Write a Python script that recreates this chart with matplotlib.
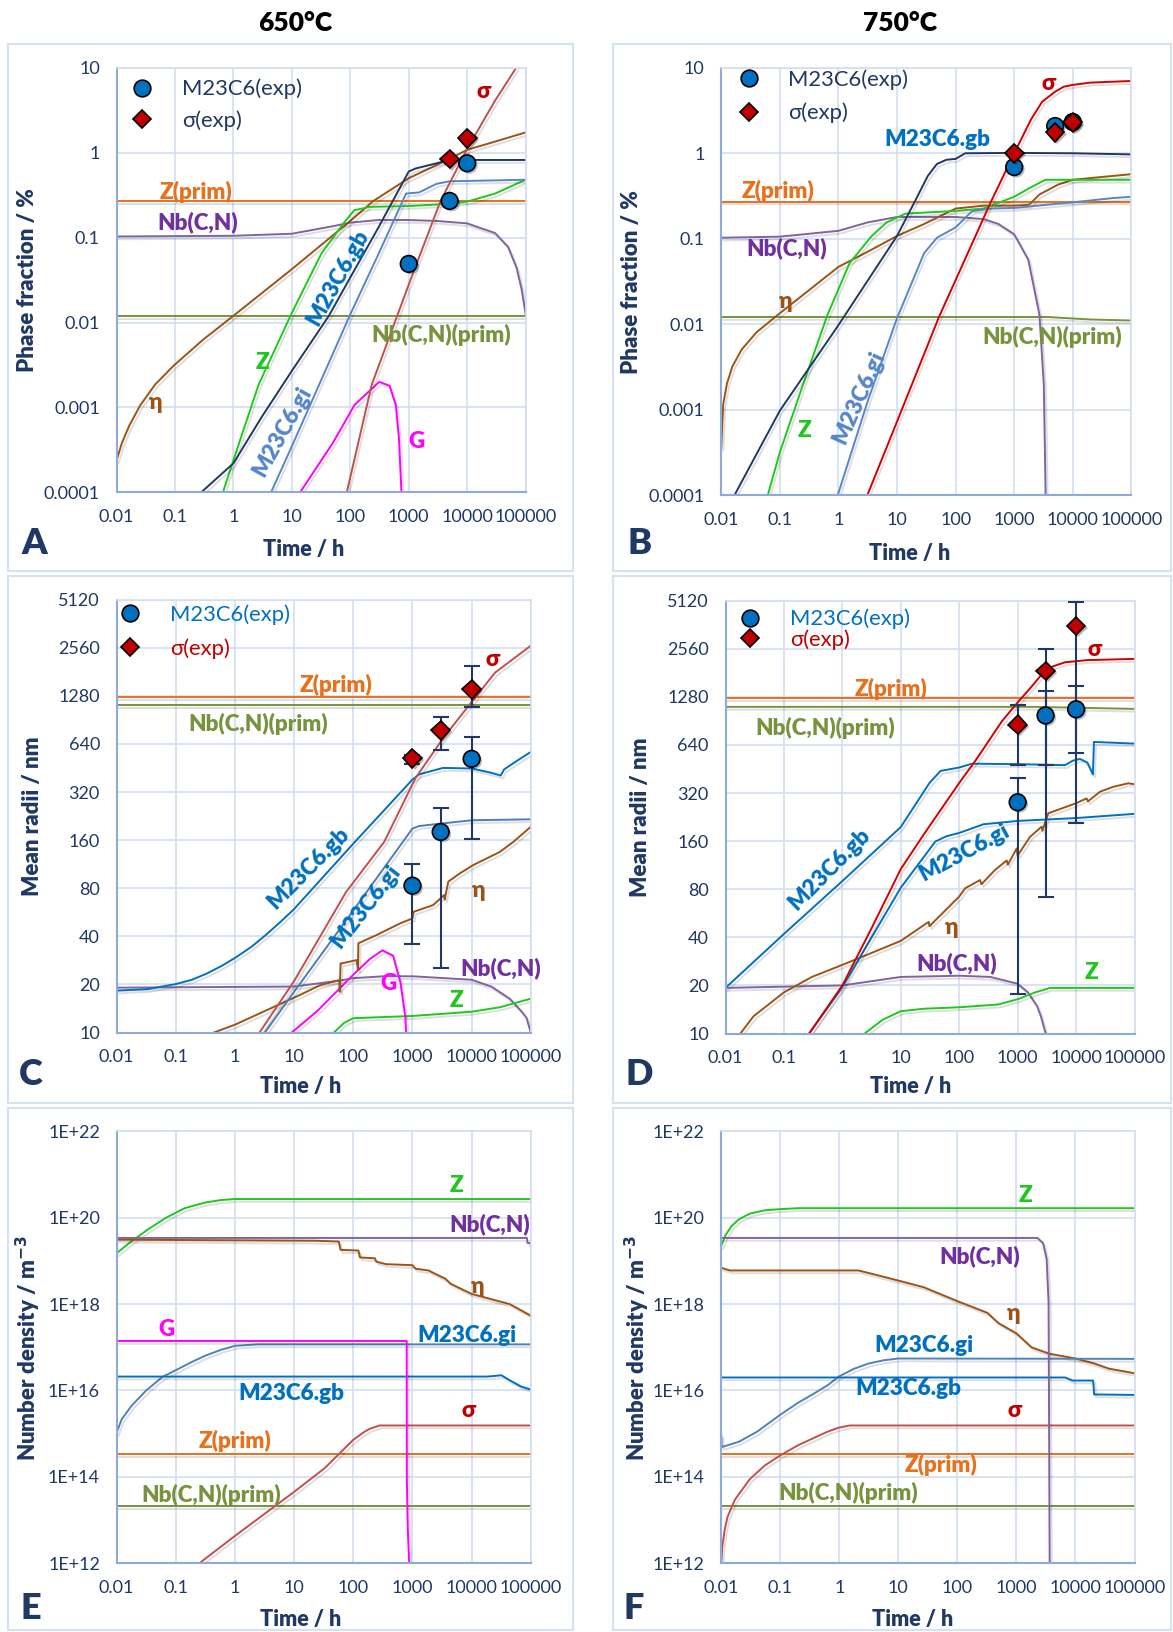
import matplotlib
matplotlib.use('Agg')
import matplotlib.pyplot as plt
import matplotlib.patheffects as pe
from matplotlib.lines import Line2D
from matplotlib.patches import Rectangle
from matplotlib.ticker import FixedLocator, FixedFormatter, NullLocator

plt.rcParams['font.family'] = ['Lato', 'DejaVu Sans']

# ---------------- time axis ----------------
time_ticks = [0.01, 0.1, 1, 10, 100, 1000, 10000, 100000]
time_labels = ['0.01', '0.1', '1', '10', '100', '1000', '10000', '100000']
t_span = [0.01, 100000]

# ---------------- A: phase fraction, 650 C ----------------
a_zprim = [0.27, 0.27]
a_nbprim = [0.012, 0.012]
a_nb_t = [0.01, 1, 10, 50, 100, 300, 1000, 3000, 10000, 30000, 50000, 70000, 85000, 100000]
a_nb = [0.103, 0.105, 0.111, 0.136, 0.150, 0.161, 0.161, 0.157, 0.147, 0.113, 0.078, 0.044, 0.025, 0.0126]
a_eta_t = [0.01, 0.0123, 0.0164, 0.0254, 0.0456, 0.0945, 0.3, 1, 10, 100, 248, 1000, 4900, 10000, 30000, 100000]
a_eta = [2.38e-4, 3.8e-4, 6.07e-4, 1.06e-3, 1.86e-3, 3.1e-3, 6.25e-3, 0.012, 0.0425, 0.157, 0.27, 0.50, 0.84,
         1.08, 1.35, 1.73]
a_z_t = [0.66, 1, 2.7, 10, 32, 78, 117, 215, 1000, 5000, 10000, 30000, 100000]
a_z = [1e-4, 2.4e-4, 1.86e-3, 0.013, 0.065, 0.15, 0.21, 0.23, 0.235, 0.25, 0.265, 0.33, 0.48]
a_gb_t = [0.28, 1, 3, 10, 43, 100, 300, 1000, 1300, 3000, 5000, 100000]
a_gb = [1e-4, 2.2e-4, 7.6e-4, 2.7e-3, 0.012, 0.034, 0.13, 0.6, 0.65, 0.75, 0.82, 0.82]
a_gi_t = [4.4, 10, 100, 300, 900, 1500, 3000, 5000, 100000]
a_gi = [1e-4, 3.5e-4, 0.0125, 0.063, 0.33, 0.34, 0.43, 0.46, 0.48]
a_sig_t = [87, 233, 1000, 3500, 10000, 30000, 69000]
a_sig = [1e-4, 1.86e-3, 0.028, 0.27, 1.11, 4.1, 10]
a_g_t = [13.8, 50, 118, 312, 470, 600, 680, 750]
a_g = [1e-4, 3.8e-4, 1.07e-3, 2.0e-3, 1.8e-3, 1.07e-3, 4.3e-4, 1e-4]
a_m23_t = [1000, 5000, 10000]
a_m23 = [0.049, 0.27, 0.75]
a_sx_t = [5000, 10000]
a_sx = [0.84, 1.48]

# ---------------- B: phase fraction, 750 C ----------------
b_zprim = [0.272, 0.272]
b_nbprim_t = [0.01, 3700, 20000, 100000]
b_nbprim = [0.0122, 0.0122, 0.0114, 0.0111]
b_nb_t = [0.01, 0.1, 1, 3.2, 10, 100, 300, 540, 1000, 1740, 2700, 3200, 3500]
b_nb = [0.103, 0.106, 0.124, 0.156, 0.18, 0.18, 0.17, 0.149, 0.113, 0.057, 0.0129, 2.0e-3, 5e-5]
b_eta_t = [0.01, 0.0104, 0.0108, 0.0125, 0.0155, 0.0224, 0.0401, 0.1, 0.36, 1, 3.2, 10, 29, 100, 300, 1000,
           1800, 2700, 5600, 10000, 100000]
b_eta = [3.6e-4, 6.7e-4, 1.17e-3, 2.03e-3, 3.23e-3, 5.1e-3, 8.1e-3, 0.0135, 0.027, 0.047, 0.071, 0.108, 0.149,
         0.226, 0.244, 0.244, 0.25, 0.33, 0.43, 0.49, 0.57]
b_z_t = [0.062, 0.1, 0.25, 0.65, 1.55, 3.7, 6.7, 14, 100, 300, 1000, 1800, 3400, 100000]
b_z = [1e-4, 3.2e-4, 2.0e-3, 0.0129, 0.052, 0.108, 0.156, 0.197, 0.212, 0.226, 0.31, 0.39, 0.49, 0.49]
b_gb_t = [0.0167, 0.1, 1, 10, 21.6, 33.6, 48, 69.8, 100, 146, 1000, 10000, 100000]
b_gb = [1e-4, 9.8e-4, 9.8e-3, 0.108, 0.30, 0.545, 0.75, 0.84, 0.86, 1.0, 1.01, 1.0, 0.97]
b_gi_t = [0.97, 3.2, 10, 29, 48, 100, 190, 400, 1000, 10000, 50000, 100000]
b_gi = [1e-4, 1.3e-3, 0.0118, 0.068, 0.103, 0.136, 0.21, 0.226, 0.23, 0.267, 0.30, 0.31]
b_sig_t = [3.1, 10, 52, 400, 1000, 1950, 3000, 5000, 7000, 10000, 20000, 100000]
b_sig = [1e-4, 7.3e-4, 0.0122, 0.27, 1.0, 2.5, 4.0, 5.25, 6.0, 6.3, 6.7, 7.0]
b_m23_t = [1000, 5000, 10000]
b_m23 = [0.69, 2.08, 2.32]
b_sx_t = [1000, 5000, 10000]
b_sx = [1.0, 1.76, 2.29]

# ---------------- C: mean radii, 650 C ----------------
c_zprim = [1250, 1250]
c_nbprim = [1114, 1114]
c_gb_t = [0.01, 0.0335, 0.1, 0.188, 0.334, 0.594, 1, 1.88, 3.33, 5.9, 10, 100, 1000, 1300, 3300, 10000, 21600,
          31000, 35600, 59000, 100000]
c_gb = [18.3, 18.7, 20.1, 21.4, 23.4, 26.1, 29.3, 34.3, 40.8, 49.3, 59.3, 152, 383, 413, 453, 449, 422,
        406, 444, 503, 570]
c_gi_t = [3.2, 10, 100, 1000, 1300, 3000, 10000, 100000]
c_gi = [10, 18, 58, 189, 196, 203, 213, 216]
c_sig_t = [2.6, 10, 76, 333, 1130, 3300, 10000, 24900, 100000]
c_sig = [10, 21, 76, 156, 392, 695, 1171, 1787, 2635]
c_eta_t = [0.44, 1, 12.6, 27.5, 58, 59, 61, 64, 114, 120, 122, 249, 617, 1000, 1050, 2250, 3450, 3500, 4040,
           6300, 10700, 30000, 50700, 100000]
c_eta = [10, 11.2, 17.2, 19.8, 21.3, 18, 27.1, 27.1, 28.4, 24.6, 36.2, 40.8, 48.2, 51.8, 57, 62.8, 72.6, 68,
         88, 99, 111.8, 135, 156, 194]
c_nb_t = [0.01, 10, 57, 100, 333, 1000, 10000, 21600, 44000, 68000, 84500, 100000]
c_nb = [19.1, 19.4, 21.1, 21.9, 22.5, 22.5, 21.4, 19.4, 16.3, 13.7, 12.4, 10]
c_g_t = [9.1, 25, 100, 190, 310, 470, 630, 760, 780]
c_g = [10, 13.7, 23, 28.8, 32.7, 30.3, 20.4, 12.4, 10]
c_z_t = [47, 70, 100, 1000, 10000, 30000, 100000]
c_z = [10, 11.5, 12.3, 12.7, 13.5, 14.4, 16.3]
c_m23_t = [1000, 3000, 10000]
c_m23 = [83, 180, 516]
c_m23_lo = [35.7, 25.2, 163]
c_m23_hi = [113, 253, 712]
c_sx_t = [1000, 3000, 10000]
c_sx = [521, 779, 1408]
c_sx_lo = [479, 589, 1086]
c_sx_hi = [542, 937, 1956]

# ---------------- D: mean radii, 750 C ----------------
d_zprim = [1253, 1253]
d_nbprim_t = [0.01, 2000, 100000]
d_nbprim = [1107, 1107, 1075]
d_gb_t = [0.01, 0.1, 1, 10, 31, 48, 100, 165, 1000, 6500, 8700, 11600, 15600, 19400, 20200, 100000]
d_gb = [19.3, 42, 90, 196, 370, 440, 462, 488, 485, 478, 509, 523, 496, 418, 668, 652]
d_gi_t = [0.27, 1, 10, 39, 60, 100, 260, 1000, 10000, 100000]
d_gi = [10, 19.5, 81.8, 159, 171.5, 180, 204, 214, 223, 237]
d_sig_t = [0.27, 1, 3.2, 10, 24.7, 100, 193, 538, 1000, 1700, 3000, 4000, 6500, 10000, 15000, 100000]
d_sig = [10, 20, 46, 107, 176, 370, 515, 900, 1180, 1471, 1888, 1983, 2105, 2136, 2170, 2210]
d_eta_t = [0.018, 0.03, 0.1, 0.3, 1, 2.7, 10, 30, 31, 100, 126, 227, 240, 409, 649, 680, 963, 1000, 1625, 2570,
           2650, 3350, 6900, 10000, 15100, 16000, 25700, 43300, 78300, 100000]
d_eta = [10, 12.8, 18.1, 22.6, 26.9, 31.2, 38, 50, 47, 72, 81, 91.3, 86, 105.5, 121, 114, 144, 130, 170, 197,
         186, 239, 263, 276, 296, 284, 326, 350, 368, 363]
d_nb_t = [0.01, 1, 10, 100, 340, 1000, 1500, 2160, 2500, 2800, 3020]
d_nb = [19.3, 20, 22.6, 23, 22.6, 20.5, 18.1, 14.8, 12.8, 11.0, 10]
d_z_t = [2.4, 4.9, 10, 25, 100, 465, 1000, 2000, 3600, 100000]
d_z = [10, 12.2, 13.8, 14.3, 14.6, 15.2, 16.4, 18.1, 19.3, 19.3]
d_m23_t = [1000, 3000, 10000]
d_m23 = [280, 978, 1069]
d_m23_lo = [17.8, 72, 209]
d_m23_hi = [400, 1390, 1497]
d_sx_t = [1000, 3000, 10000]
d_sx = [856, 1860, 3556]
d_sx_lo = [478, 478, 569]
d_sx_hi = [1134, 2562, 5000]

# ---------------- E: number density, 650 C ----------------
e_z_t = [0.01, 0.0163, 0.0335, 0.0688, 0.141, 0.316, 0.59, 1, 100000]
e_z = [1.5e19, 2.58e19, 5.3e19, 1.0e20, 1.66e20, 2.25e20, 2.57e20, 2.7e20, 2.7e20]
e_nb_t = [0.01, 86000, 88000, 100000]
e_nb = [3.4e19, 3.4e19, 2.6e19, 2.6e19]
e_eta_t = [0.01, 23, 57, 61, 122, 130, 232, 245, 357, 1000, 1130, 1870, 2680, 3570, 4430, 10000, 44000, 100000]
e_eta = [3.1e19, 2.93e19, 2.8e19, 1.8e19, 1.74e19, 1.2e19, 1.15e19, 9.6e18, 8.4e18, 7.96e18, 6.6e18, 6.0e18,
         4.7e18, 3.9e18, 2.95e18, 1.72e18, 1.0e18, 5.4e17]
e_g_t = [0.01, 800, 805, 835, 885]
e_g = [1.4e17, 1.4e17, 8e13, 6e12, 9e11]
e_gi_t = [0.01, 0.0122, 0.0178, 0.0316, 0.0596, 0.1, 0.188, 0.316, 0.59, 1, 2.5, 100000]
e_gi = [1.05e15, 2.15e15, 4.4e15, 1.0e16, 2.06e16, 2.95e16, 4.6e16, 6.4e16, 8.8e16, 1.08e17, 1.17e17, 1.17e17]
e_gb_t = [0.01, 18600, 31800, 44300, 68100, 100000]
e_gb = [2.1e16, 2.1e16, 2.25e16, 1.72e16, 1.24e16, 1.05e16]
e_sig_t = [0.25, 1, 10, 33, 100, 150, 190, 280, 100000]
e_sig = [1e12, 4.3e12, 4.5e13, 1.6e14, 7.2e14, 1.08e15, 1.3e15, 1.55e15, 1.55e15]
e_zprim = [3.3e14, 3.3e14]
e_nbprim = [2.15e13, 2.15e13]

# ---------------- F: number density, 750 C ----------------
f_z_t = [0.01, 0.0119, 0.0148, 0.0197, 0.0305, 0.0544, 0.1, 0.2, 100000]
f_z = [2.25e19, 4.0e19, 6.3e19, 9.1e19, 1.24e20, 1.48e20, 1.58e20, 1.66e20, 1.66e20]
f_nb_t = [0.01, 2260, 2820, 3250, 3500, 3660]
f_nb = [3.4e19, 3.4e19, 2.6e19, 1.1e19, 1.1e18, 5e11]
f_eta_t = [0.01, 0.014, 2.1, 3.6, 10, 27, 100, 320, 500, 1000, 1800, 3600, 10000, 21000, 37000, 100000]
f_eta = [6.9e18, 6.0e18, 6.0e18, 5.0e18, 3.5e18, 2.45e18, 1.17e18, 6.3e17, 3.6e17, 2.1e17, 1.0e17, 7.1e16,
         5.5e16, 4.2e16, 3.2e16, 2.5e16]
f_gi_t = [0.01, 0.0102, 0.0198, 0.0407, 0.1, 0.2, 0.357, 0.637, 0.98, 1.75, 3.1, 5.6, 10, 100000]
f_gi = [9.3e14, 4.9e14, 6.5e14, 1.12e15, 2.75e15, 5.2e15, 8.2e15, 1.33e16, 2.1e16, 3.16e16, 4.2e16, 5.0e16,
        5.5e16, 5.4e16]
f_gb_t = [0.01, 6700, 8950, 19900, 20700, 100000]
f_gb = [2.0e16, 2.0e16, 1.7e16, 1.7e16, 8.1e15, 7.9e15]
f_sig_t = [0.01, 0.0104, 0.0114, 0.0128, 0.0171, 0.0305, 0.0544, 0.1, 0.2, 0.357, 0.637, 0.98, 1.5, 100000]
f_sig = [1e12, 2.4e12, 5.9e12, 1.2e13, 3.0e13, 8.9e13, 1.83e14, 3.15e14, 5.4e14, 7.8e14, 1.12e15, 1.38e15,
         1.55e15, 1.55e15]
f_zprim = [3.3e14, 3.3e14]
f_nbprim = [2.1e13, 2.1e13]

# ---------------- y axes ----------------
frac_ticks = [0.0001, 0.001, 0.01, 0.1, 1, 10]
frac_labels = ['0.0001', '0.001', '0.01', '0.1', '1', '10']
rad_ticks = [10, 20, 40, 80, 160, 320, 640, 1280, 2560, 5120]
rad_labels = [str(v) for v in rad_ticks]
dens_ticks = [1e12, 1e14, 1e16, 1e18, 1e20, 1e22]
dens_labels = ['1E+12', '1E+14', '1E+16', '1E+18', '1E+20', '1E+22']

# colours
INK = '#1f3864'
GRID = '#d3def0'
SPINE = '#8eaadb'
C_ZPRIM = '#e9701c'
C_NBPRIM = '#77933c'
C_NB = '#8064a2'
C_NB_TXT = '#7030a0'
C_ETA = '#9c5314'
C_Z = '#1ec81e'
C_SIG = '#c0504d'
C_SIG2 = '#d40000'
C_SIG_TXT = '#c00000'
C_G = '#ff00ff'
C_NAVY = '#203864'
C_BLUE = '#0070c0'
C_STEEL = '#5586c8'
SHADOW = [pe.SimpleLineShadow(offset=(1.5, -2), shadow_color='k', alpha=0.13), pe.Normal()]
BOLD = 'heavy'

fig = plt.figure(figsize=(11.73, 16.32), dpi=100)

# panel frames
for x0, y0, x1, y1 in [(0.0071, 0.6499, 0.4889, 0.9732), (0.5226, 0.6499, 0.9985, 0.9732),
                       (0.0071, 0.3240, 0.4889, 0.6473), (0.5226, 0.3240, 0.9985, 0.6473),
                       (0.0071, 0.0010, 0.4889, 0.3208), (0.5226, 0.0010, 0.9985, 0.3208)]:
    fig.add_artist(Rectangle((x0, y0), x1 - x0, y1 - y0, transform=fig.transFigure,
                             fill=False, edgecolor='#d6e1f2', lw=1.5))


def make_axes(rect, yticks, ylabels, base=10):
    ax = fig.add_axes(rect)
    ax.set_xscale('log')
    ax.set_yscale('log', base=base)
    ax.set_xlim(*t_span)
    ax.set_ylim(yticks[0], yticks[-1])
    ax.xaxis.set_major_locator(FixedLocator(time_ticks))
    ax.xaxis.set_major_formatter(FixedFormatter(time_labels))
    ax.yaxis.set_major_locator(FixedLocator(yticks))
    ax.yaxis.set_major_formatter(FixedFormatter(ylabels))
    ax.xaxis.set_minor_locator(NullLocator())
    ax.yaxis.set_minor_locator(NullLocator())
    ax.grid(True, color=GRID, lw=1.2)
    ax.set_axisbelow(True)
    ax.tick_params(length=0, labelsize=13, colors=INK)
    ax.tick_params(axis='x', pad=12)
    ax.tick_params(axis='y', pad=12)
    for side in ['top', 'right']:
        ax.spines[side].set_color(GRID)
        ax.spines[side].set_linewidth(1.2)
    for side in ['left', 'bottom']:
        ax.spines[side].set_color(SPINE)
        ax.spines[side].set_linewidth(1.5)
    return ax


def curve(ax, t, v, color, lw=1.4):
    ax.plot(t, v, color=color, lw=lw, path_effects=SHADOW, solid_joinstyle='round')


def flat(ax, v, color):
    curve(ax, t_span, v, color)


def tag(ax, t, v, text, color, rot=0):
    ax.text(t, v, text, color=color, fontsize=16.2, fontweight=BOLD, rotation=rot,
            ha='center', va='center', rotation_mode='anchor')


def points(ax, t, v, marker, face, lo=None, hi=None):
    if lo is not None:
        err = [[m - l for m, l in zip(v, lo)], [h - m for m, h in zip(v, hi)]]
        ax.errorbar(t, v, yerr=err, fmt='none', ecolor=INK, elinewidth=1.5, capsize=6, capthick=1.5, zorder=4)
    ms = 12 if marker == 'o' else 9.5
    ax.plot(t, v, ls='', marker=marker, ms=ms, mfc=face, mec='k', mew=1.2, zorder=5,
            path_effects=[pe.SimplePatchShadow(offset=(1.5, -1.5), alpha=0.3), pe.Normal()])


def exp_legend(ax, x0, y1, spacing, colors):
    handles = [Line2D([], [], ls='', marker='o', ms=12, mfc=C_BLUE, mec='k', mew=1.2),
               Line2D([], [], ls='', marker='D', ms=9.5, mfc=C_SIG_TXT, mec='k', mew=1.2)]
    leg = ax.legend(handles, ['M23C6(exp)', 'σ(exp)'], loc='upper left', bbox_to_anchor=(x0, y1),
                    frameon=False, fontsize=15.8, handlelength=1.0, handletextpad=1.3,
                    labelspacing=spacing, borderpad=0, borderaxespad=0, numpoints=1)
    for txt, c in zip(leg.get_texts(), colors):
        txt.set_color(c)


# ===== A =====
ax = make_axes([0.0994, 0.6983, 0.3487, 0.2602], frac_ticks, frac_labels)
flat(ax, a_zprim, C_ZPRIM)
flat(ax, a_nbprim, C_NBPRIM)
curve(ax, a_nb_t, a_nb, C_NB)
curve(ax, a_eta_t, a_eta, C_ETA)
curve(ax, a_z_t, a_z, C_Z)
curve(ax, a_gb_t, a_gb, C_NAVY)
curve(ax, a_gi_t, a_gi, C_STEEL)
curve(ax, a_g_t, a_g, C_G)
curve(ax, a_sig_t, a_sig, C_SIG)
points(ax, a_m23_t, a_m23, 'o', C_BLUE)
points(ax, a_sx_t, a_sx, 'D', C_SIG_TXT)
exp_legend(ax, 0.036, 0.974, 0.5, [INK, INK])
tag(ax, 18900, 5.2, 'σ', C_SIG_TXT)
tag(ax, 0.226, 0.347, 'Z(prim)', C_ZPRIM)
tag(ax, 0.243, 0.15, 'Nb(C,N)', C_NB_TXT)
tag(ax, 62, 0.0336, 'M23C6.gb', C_BLUE, 61)
tag(ax, 3530, 0.0072, 'Nb(C,N)(prim)', C_NBPRIM)
tag(ax, 3.2, 0.0034, 'Z', C_Z)
tag(ax, 0.047, 0.00115, 'η', C_ETA)
tag(ax, 6.7, 5.2e-4, 'M23C6.gi', C_STEEL, 61)
tag(ax, 1370, 4e-4, 'G', C_G)

# ===== B =====
ax = make_axes([0.6149, 0.6964, 0.3496, 0.2621], frac_ticks, frac_labels)
flat(ax, b_zprim, C_ZPRIM)
curve(ax, b_nbprim_t, b_nbprim, C_NBPRIM)
curve(ax, b_nb_t, b_nb, C_NB)
curve(ax, b_eta_t, b_eta, C_ETA)
curve(ax, b_z_t, b_z, C_Z)
curve(ax, b_gb_t, b_gb, C_NAVY)
curve(ax, b_gi_t, b_gi, C_STEEL)
curve(ax, b_sig_t, b_sig, C_SIG2)
points(ax, b_m23_t, b_m23, 'o', C_BLUE)
points(ax, b_sx_t, b_sx, 'D', C_SIG_TXT)
exp_legend(ax, 0.04, 0.997, 0.6, [INK, INK])
tag(ax, 3900, 6.6, 'σ', C_SIG_TXT)
tag(ax, 48, 1.44, 'M23C6.gb', C_BLUE)
tag(ax, 0.094, 0.36, 'Z(prim)', C_ZPRIM)
tag(ax, 0.13, 0.078, 'Nb(C,N)', C_NB_TXT)
tag(ax, 0.124, 0.0186, 'η', C_ETA)
tag(ax, 4500, 0.0071, 'Nb(C,N)(prim)', C_NBPRIM)
tag(ax, 0.26, 5.8e-4, 'Z', C_Z)
tag(ax, 2.24, 1.4e-3, 'M23C6.gi', C_STEEL, 66)

# ===== C =====
ax = make_axes([0.0994, 0.3673, 0.3531, 0.2653], rad_ticks, rad_labels, base=2)
flat(ax, c_zprim, C_ZPRIM)
flat(ax, c_nbprim, C_NBPRIM)
curve(ax, c_nb_t, c_nb, C_NB)
curve(ax, c_z_t, c_z, C_Z)
curve(ax, c_g_t, c_g, C_G)
curve(ax, c_eta_t, c_eta, C_ETA)
curve(ax, c_gb_t, c_gb, C_BLUE)
curve(ax, c_gi_t, c_gi, '#4a7ebb')
curve(ax, c_sig_t, c_sig, C_SIG)
points(ax, c_m23_t, c_m23, 'o', C_BLUE, c_m23_lo, c_m23_hi)
points(ax, c_sx_t, c_sx, 'D', C_SIG_TXT, c_sx_lo, c_sx_hi)
exp_legend(ax, 0.007, 0.989, 0.62, [C_BLUE, C_SIG_TXT])
tag(ax, 17.5, 107.6, 'M23C6.gb', C_BLUE, 45)
tag(ax, 162, 61.3, 'M23C6.gi', C_BLUE, 52)
tag(ax, 22500, 2161, 'σ', C_SIG_TXT)
tag(ax, 51, 1488, 'Z(prim)', C_ZPRIM)
tag(ax, 2.5, 848, 'Nb(C,N)(prim)', C_NBPRIM)
tag(ax, 13000, 78, 'η', C_ETA)
tag(ax, 31000, 25.1, 'Nb(C,N)', C_NB_TXT)
tag(ax, 395, 20.2, 'G', C_G)
tag(ax, 5500, 15.9, 'Z', C_Z)

# ===== D =====
ax = make_axes([0.6185, 0.3667, 0.3487, 0.2653], rad_ticks, rad_labels, base=2)
flat(ax, d_zprim, C_ZPRIM)
curve(ax, d_nbprim_t, d_nbprim, C_NBPRIM)
curve(ax, d_nb_t, d_nb, C_NB)
curve(ax, d_z_t, d_z, C_Z)
curve(ax, d_eta_t, d_eta, C_ETA)
curve(ax, d_gb_t, d_gb, C_BLUE)
curve(ax, d_gi_t, d_gi, C_BLUE)
curve(ax, d_sig_t, d_sig, C_SIG2)
points(ax, d_m23_t, d_m23, 'o', C_BLUE, d_m23_lo, d_m23_hi)
points(ax, d_sx_t, d_sx, 'D', C_SIG_TXT, d_sx_lo, d_sx_hi)
exp_legend(ax, 0.034, 0.981, 0.0, [C_BLUE, C_SIG_TXT])
tag(ax, 0.594, 107, 'M23C6.gb', C_BLUE, 45)
tag(ax, 124, 136, 'M23C6.gi', C_BLUE, 28)
tag(ax, 20800, 2540, 'σ', C_SIG_TXT)
tag(ax, 6.8, 1440, 'Z(prim)', C_ZPRIM)
tag(ax, 0.51, 822, 'Nb(C,N)(prim)', C_NBPRIM)
tag(ax, 74.5, 46.3, 'η', C_ETA)
tag(ax, 90, 27.6, 'Nb(C,N)', C_NB_TXT)
tag(ax, 18000, 24.1, 'Z', C_Z)

# ===== E =====
ax = make_axes([0.0994, 0.0421, 0.3531, 0.2647], dens_ticks, dens_labels)
flat(ax, e_zprim, C_ZPRIM)
flat(ax, e_nbprim, C_NBPRIM)
curve(ax, e_z_t, e_z, C_Z)
curve(ax, e_nb_t, e_nb, C_NB)
curve(ax, e_eta_t, e_eta, C_ETA)
curve(ax, e_gi_t, e_gi, '#4f81bd')
curve(ax, e_gb_t, e_gb, C_BLUE)
curve(ax, e_sig_t, e_sig, C_SIG)
curve(ax, e_g_t, e_g, C_G)
tag(ax, 5500, 5.6e20, 'Z', C_Z)
tag(ax, 20000, 7e19, 'Nb(C,N)', C_NB_TXT)
tag(ax, 12600, 2.5e18, 'η', C_ETA)
tag(ax, 0.071, 2.6e17, 'G', C_G)
tag(ax, 8500, 1.9e17, 'M23C6.gi', C_BLUE)
tag(ax, 8.9, 8.4e15, 'M23C6.gb', C_BLUE)
tag(ax, 8800, 3.4e15, 'σ', C_SIG_TXT)
tag(ax, 1, 6.9e14, 'Z(prim)', C_ZPRIM)
tag(ax, 0.4, 3.8e13, 'Nb(C,N)(prim)', C_NBPRIM)

# ===== F =====
ax = make_axes([0.6149, 0.0421, 0.3523, 0.2647], dens_ticks, dens_labels)
flat(ax, f_zprim, C_ZPRIM)
flat(ax, f_nbprim, C_NBPRIM)
curve(ax, f_z_t, f_z, C_Z)
curve(ax, f_eta_t, f_eta, C_ETA)
curve(ax, f_gi_t, f_gi, '#4f81bd')
curve(ax, f_gb_t, f_gb, C_BLUE)
curve(ax, f_sig_t, f_sig, C_SIG)
curve(ax, f_nb_t, f_nb, C_NB)
tag(ax, 1400, 3.3e20, 'Z', C_Z)
tag(ax, 240, 1.3e19, 'Nb(C,N)', C_NB_TXT)
tag(ax, 885, 6e17, 'η', C_ETA)
tag(ax, 27.4, 1.1e17, 'M23C6.gi', C_BLUE)
tag(ax, 15, 1.1e16, 'M23C6.gb', C_BLUE)
tag(ax, 925, 3.4e15, 'σ', C_SIG_TXT)
tag(ax, 52, 1.9e14, 'Z(prim)', C_ZPRIM)
tag(ax, 1.4, 4.3e13, 'Nb(C,N)(prim)', C_NBPRIM)

# titles, axis titles and panel letters
fig.text(0.252, 0.986, '650°C', fontsize=19, fontweight=BOLD, color='black', ha='center', va='center')
fig.text(0.7675, 0.986, '750°C', fontsize=19, fontweight=BOLD, color='black', ha='center', va='center')

for x, y in [(0.259, 0.663), (0.7755, 0.661), (0.2564, 0.334), (0.776, 0.334), (0.2564, 0.0077), (0.778, 0.0077)]:
    fig.text(x, y, 'Time / h', fontsize=15.5, fontweight=BOLD, color=INK, ha='center', va='center')

ylab = [(0.0231, 0.8284, 'Phase fraction / %'), (0.5386, 0.827, 'Phase fraction / %'),
        (0.0275, 0.500, 'Mean radii / nm'), (0.5457, 0.499, 'Mean radii / nm'),
        (0.0240, 0.174, 'Number density / m$^{\\mathbf{-3}}$'), (0.5430, 0.174, 'Number density / m$^{\\mathbf{-3}}$')]
for x, y, s in ylab:
    fig.text(x, y, s, fontsize=16, fontweight=BOLD, color=INK, ha='center', va='center', rotation=90)

for x, y, s in [(0.0293, 0.667, 'A'), (0.545, 0.667, 'B'), (0.0266, 0.3418, 'C'),
                (0.545, 0.3418, 'D'), (0.0266, 0.0147, 'E'), (0.540, 0.0147, 'F')]:
    fig.text(x, y, s, fontsize=26, fontweight=BOLD, color=INK, ha='center', va='center')

fig.savefig('out.png', dpi=100, facecolor='white')
